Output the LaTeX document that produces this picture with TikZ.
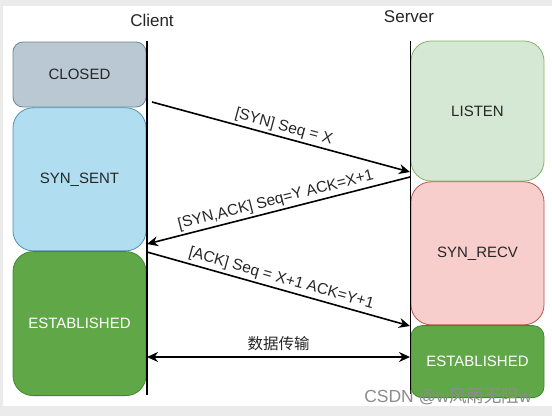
\documentclass[tikz,border=0pt]{standalone}
\usepackage{fontspec}
\setmainfont{Liberation Sans}
\newfontfamily\cjk{Noto Sans CJK SC}
\usepackage{tikz}
\usetikzlibrary{positioning,arrows.meta}
\definecolor{closedfill}{HTML}{BAC8D3}
\definecolor{closedline}{HTML}{6F8797}
\definecolor{sentfill}{HTML}{B1DDF0}
\definecolor{sentline}{HTML}{4D93B5}
\definecolor{listenfill}{HTML}{D5E8D4}
\definecolor{listenline}{HTML}{82B366}
\definecolor{recvfill}{HTML}{F8CECC}
\definecolor{recvline}{HTML}{B85450}
\definecolor{estfill}{HTML}{60A847}
\definecolor{estline}{HTML}{3E8A2A}
\definecolor{pagegray}{HTML}{EBEBEB}
\definecolor{markgray}{HTML}{8C8C8C}
\tikzstyle{state} = [draw, line width=0.8pt, minimum width=133pt, inner sep=0pt, font=\fontsize{15}{18}\selectfont, text=black!85]
\tikzstyle{est} = [state, fill=estfill, draw=estline, text=white]
\tikzstyle{msg} = [line width=1.6pt, -{Stealth[length=11pt,width=10pt]}]
\tikzstyle{msglabel} = [font=\fontsize{15.5}{18}\selectfont, text=black!85, inner sep=2.5pt]

\begin{document}
\begin{tikzpicture}[x=1pt, y=-1pt]
    \fill[pagegray] (0,0) rectangle (552,416);
    \fill[white] (3,6) rectangle (552,406);
    \useasboundingbox (0,0) rectangle (552,416);

    % client side
    \node[state, fill=closedfill, draw=closedline, rounded corners=10pt, minimum height=65pt] (closed) at (79.5,74.5) {CLOSED};
    \node[state, fill=sentfill, draw=sentline, rounded corners=20pt, minimum height=143pt, below=0pt of closed] (synsent) {SYN\_SENT};
    \node[est, rounded corners=20pt, minimum height=144pt, below=0pt of synsent] (cest) {ESTABLISHED};

    % server side
    \node[state, fill=listenfill, draw=listenline, rounded corners=20pt, minimum height=140pt] (listen) at (477.5,111) {LISTEN};
    \node[state, fill=recvfill, draw=recvline, rounded corners=20pt, minimum height=143pt, below=0pt of listen] (synrecv) {SYN\_RECV};
    \node[est, rounded corners=11pt, minimum height=72pt, below=0pt of synrecv] (sest) {ESTABLISHED};

    \node[font=\fontsize{17}{20}\selectfont, text=black!85] (client) at (152,20) {Client};
    \node[font=\fontsize{17}{20}\selectfont, text=black!85] (server) at (409,17) {Server};

    % lifelines
    \coordinate (ctop) at (147,41);
    \coordinate (cbot) at (147,395);
    \coordinate (stop) at (410.5,41);
    \coordinate (sbot) at (410.5,394);
    \draw[line width=1.6pt] (ctop) -- (cbot);
    \draw[line width=1.6pt] (stop) -- (sbot);

    % messages
    \coordinate (syna) at (152,102);
    \coordinate (synb) at (410,172);
    \coordinate (sacka) at (410,177);
    \coordinate (sackb) at (147,244);
    \coordinate (acka) at (147,252);
    \coordinate (ackb) at (410,326);
    \coordinate (data1) at (147,357);
    \coordinate (data2) at (410,357);
    \draw[msg] (syna) -- node[msglabel, sloped, above] {[SYN] Seq = X} (synb);
    \draw[msg] (sacka) -- node[msglabel, sloped, above] {[SYN,ACK] Seq=Y ACK=X+1} (sackb);
    \draw[msg] (acka) -- node[msglabel, sloped, above] {[ACK] Seq = X+1 ACK=Y+1} (ackb);
    \draw[msg, {Stealth[length=11pt,width=10pt]}-{Stealth[length=11pt,width=10pt]}] (data1) -- node[msglabel, above=3pt] {\cjk 数据传输} (data2);

    \node[font=\fontsize{17.5}{20}\selectfont, text=markgray] (mark) at (448,397) {CSDN @w{\cjk 风雨无阻}w};
\end{tikzpicture}
\end{document}
